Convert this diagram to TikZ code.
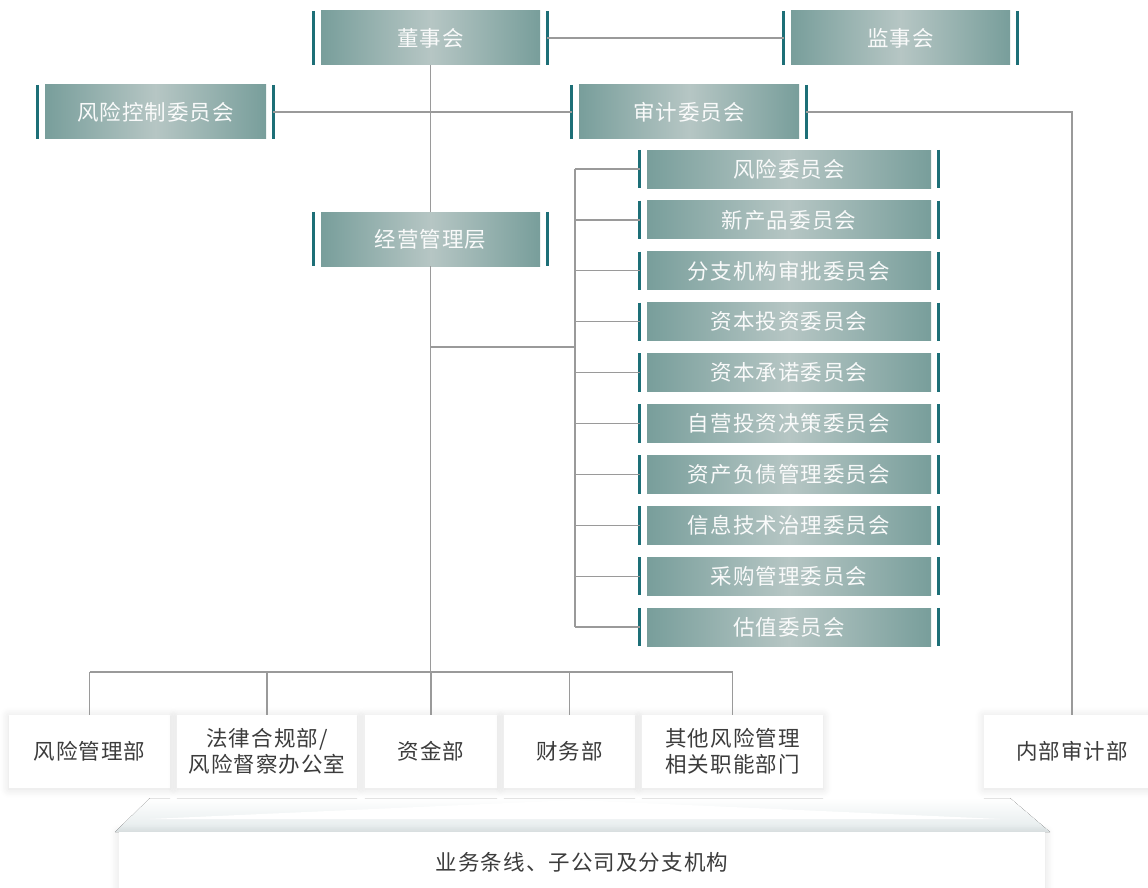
\documentclass[tikz,border=0pt]{standalone}
\usepackage{fontspec}
\setmainfont{Noto Sans CJK SC}[LetterSpace=5]
\usetikzlibrary{shadows.blur}
\definecolor{tealedge}{HTML}{789E9B}
\definecolor{tealmid}{HTML}{B6C6C4}
\definecolor{tealbar}{HTML}{1D6F77}
\definecolor{linegray}{HTML}{9A9A9A}
\definecolor{txtgray}{HTML}{3C3C3C}
\definecolor{bandgray}{HTML}{E3EAEB}
\tikzset{
  board/.style={inner sep=0pt, minimum height=54pt, left color=tealedge, right color=tealedge,
    middle color=tealmid, text=white!92!tealmid, font=\fontsize{21.5}{24}\selectfont},
  cmte/.style={board, minimum width=284pt, minimum height=38pt},
  sidebar/.style={tealbar, line width=3pt},
  dept/.style={inner sep=0pt, minimum height=73pt, fill=white, text=txtgray, align=center,
    font=\fontsize{21.5}{26}\selectfont,
    blur shadow={shadow xshift=0pt, shadow yshift=-1pt, shadow blur radius=9pt, shadow opacity=12, shadow blur steps=12}},
  conn/.style={linegray, line width=1.3pt}
}
\begin{document}
\begin{tikzpicture}[x=1pt,y=-1pt]
    \useasboundingbox (0,0) rectangle (1148,888);
    \clip (0,0) rectangle (1148,888);

    % top level
    \node[board, minimum width=219pt] (dsh) at (430.5,38) {董事会};
    \node[board, minimum width=219pt] (jsh) at (900.5,38) {监事会};
    \node[board, minimum width=221pt] (fkw) at (155.5,112) {风险控制委员会};
    \node[board, minimum width=220pt] (sjw) at (689,112) {审计委员会};
    \node[board, minimum width=219pt] (jyc) at (430.5,239) {经营管理层};

    % committees under management
    \foreach \name [count=\i] in {风险委员会,新产品委员会,分支机构审批委员会,资本投资委员会,资本承诺委员会,
        自营投资决策委员会,资产负债管理委员会,信息技术治理委员会,采购管理委员会,估值委员会}
        \node[cmte] (c\i) at (789,{169+50.9*(\i-1)}) {\name};

    % side bars
    \foreach \n in {dsh,jsh,fkw,sjw,jyc,c1,c2,c3,c4,c5,c6,c7,c8,c9,c10} {
        \draw[sidebar] ([xshift=-7pt]\n.north west) -- ([xshift=-7pt]\n.south west);
        \draw[sidebar] ([xshift=7pt]\n.north east) -- ([xshift=7pt]\n.south east);
    }

    % band under the departments
    \fill[top color=white, bottom color=bandgray] (150,798) -- (1010,798) -- (1050,832) -- (115,832) -- cycle;
    \fill[white] (150,819) -- (575,800) -- (1000,819) -- cycle;

    % departments
    \node[dept, minimum width=161pt] (fxg) at (89.5,751.5) {风险管理部};
    \node[dept, minimum width=180pt] (flhg) at (267,751.5) {法律合规部/\\风险督察办公室};
    \node[dept, minimum width=132pt] (zjb) at (431,751.5) {资金部};
    \node[dept, minimum width=131pt] (cwb) at (569.5,751.5) {财务部};
    \node[dept, minimum width=181pt] (qtb) at (732.5,751.5) {其他风险管理\\相关职能部门};
    \node[dept, minimum width=176pt] (nsb) at (1072,751.5) {内部审计部};
    \node[dept, minimum width=926pt, minimum height=60pt] (ywtx) at (582,862) {业务条线、子公司及分支机构};

    % connectors
    \coordinate (bus) at (431,672);
    \coordinate (br) at (575,347);
    \draw[conn] ([xshift=7pt]dsh.east) -- ([xshift=-7pt]jsh.west);
    \draw[conn] ([xshift=7pt]fkw.east) -- ([xshift=-7pt]sjw.west);
    \draw[conn] (dsh.south) -- (jyc.north);
    \draw[conn] ([xshift=7pt]sjw.east) -| (nsb.north);
    \draw[conn] (jyc.south) -- (jyc.south |- bus);
    \draw[conn] (jyc.south |- br) -- (br);
    \draw[conn] (br |- c1) -- (br |- c10);
    \foreach \i in {1,...,10}
        \draw[conn] (br |- c\i) -- ([xshift=-7pt]c\i.west);
    \draw[conn] (fxg.north |- bus) -- (qtb.north |- bus);
    \foreach \n in {fxg,flhg,zjb,cwb,qtb}
        \draw[conn] (\n.north |- bus) -- (\n.north);

\end{tikzpicture}
\end{document}
